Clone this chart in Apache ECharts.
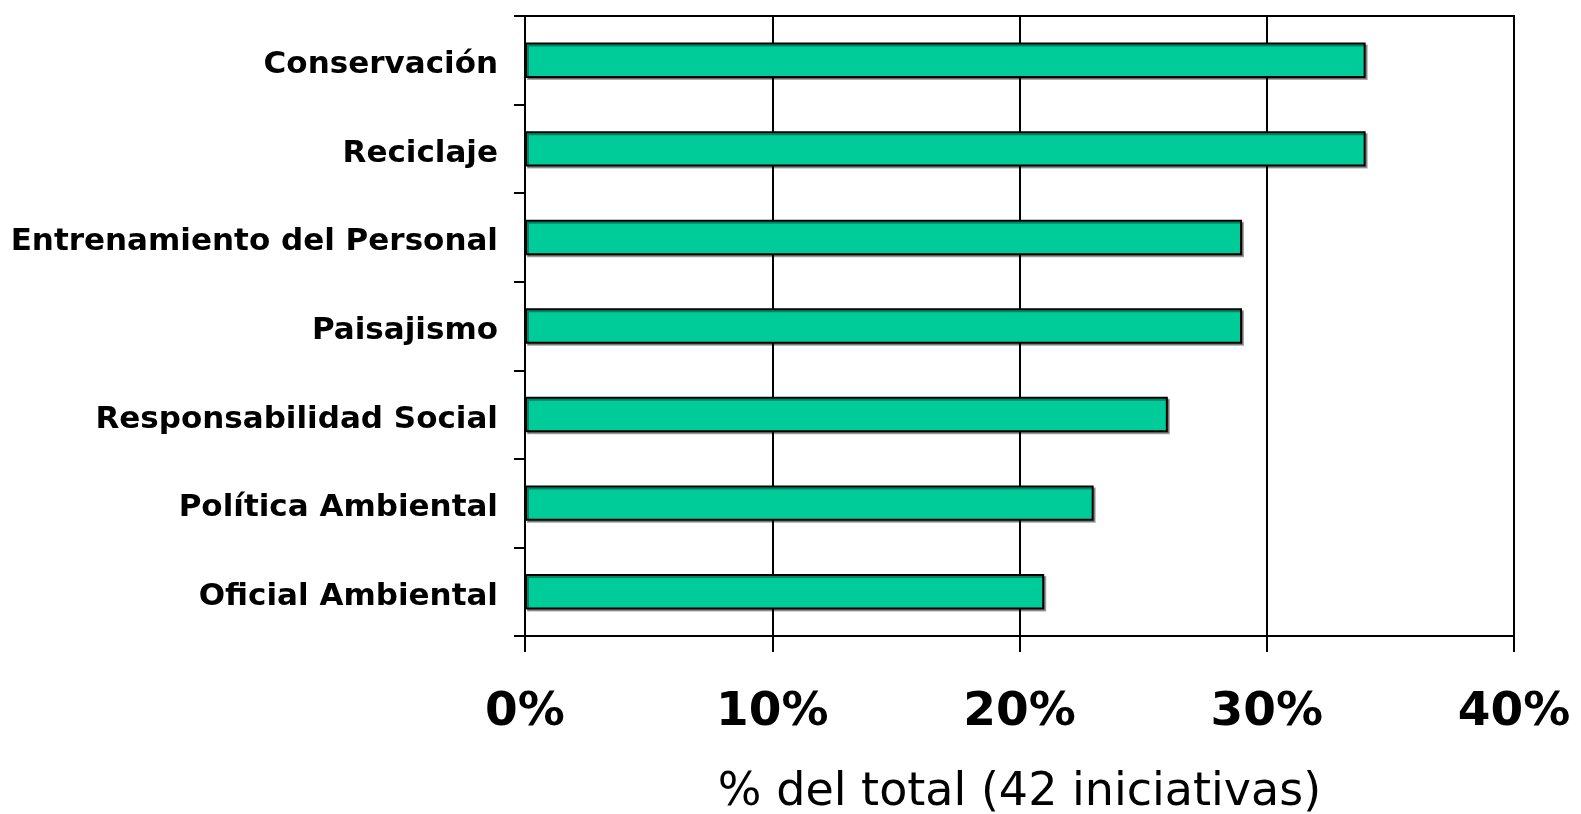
<!DOCTYPE html>
<html>
<head>
<meta charset="utf-8">
<title>Iniciativas ambientales</title>
<script src="https://cdn.jsdelivr.net/npm/echarts@6/dist/echarts.min.js"></script>
<style>
  html, body { margin: 0; padding: 0; background: #fff; }
  #chart { width: 1581px; height: 814px; }
</style>
</head>
<body>
<div id="chart"></div>
<script>
// categorias de arriba hacia abajo
var categories = ['Conservación', 'Reciclaje', 'Entrenamiento del Personal', 'Paisajismo',
  'Responsabilidad Social', 'Política Ambiental', 'Oficial Ambiental'];
// % del total (42 iniciativas)
var values = [34, 34, 29, 29, 26, 23, 21];
var xTicks = [0, 10, 20, 30, 40];

var chart = echarts.init(document.getElementById('chart'));

var option = {
  animation: false,
  grid: {
    left: 525,
    right: 67,
    top: 16,
    bottom: 178,
    outerBoundsMode: 'none',
    containLabel: false,
    show: true,
    borderColor: '#000',
    borderWidth: 2
  },
  xAxis: {
    type: 'value',
    min: xTicks[0],
    max: xTicks[xTicks.length - 1],
    interval: 10,
    name: '% del total (42 iniciativas)',
    nameLocation: 'middle',
    nameGap: 134,
    nameTextStyle: {
      fontFamily: 'DejaVu Sans',
      fontSize: 46,
      color: '#000',
      verticalAlign: 'top'
    },
    axisLine: { lineStyle: { color: '#000', width: 2 } },
    axisTick: { show: true, length: 16, lineStyle: { color: '#000', width: 2 } },
    axisLabel: {
      formatter: '{value}%',
      fontFamily: 'DejaVu Sans',
      fontWeight: 'bold',
      fontSize: 47,
      color: '#000',
      margin: 53
    },
    splitLine: { show: true, lineStyle: { color: '#000', width: 2 } }
  },
  yAxis: {
    type: 'category',
    data: categories,
    inverse: true,
    axisLine: { lineStyle: { color: '#000', width: 2 } },
    axisTick: { show: true, length: 11, lineStyle: { color: '#000', width: 2 } },
    axisLabel: {
      margin: 27,
      formatter: '{c|{value}}',
      rich: {
        c: {
          fontFamily: 'DejaVu Sans',
          fontWeight: 'bold',
          fontSize: 31,
          lineHeight: 34,
          color: '#000',
          padding: [10, 0, 0, 0]
        }
      }
    }
  },
  series: [{
    type: 'bar',
    data: values,
    barWidth: '40%',
    itemStyle: {
      color: '#00CC99',
      borderColor: '#000',
      borderWidth: 2,
      shadowColor: 'rgba(0,0,0,0.35)',
      shadowOffsetX: 2,
      shadowOffsetY: 2,
      shadowBlur: 0
    }
  }]
};

chart.setOption(option);
</script>
</body>
</html>
